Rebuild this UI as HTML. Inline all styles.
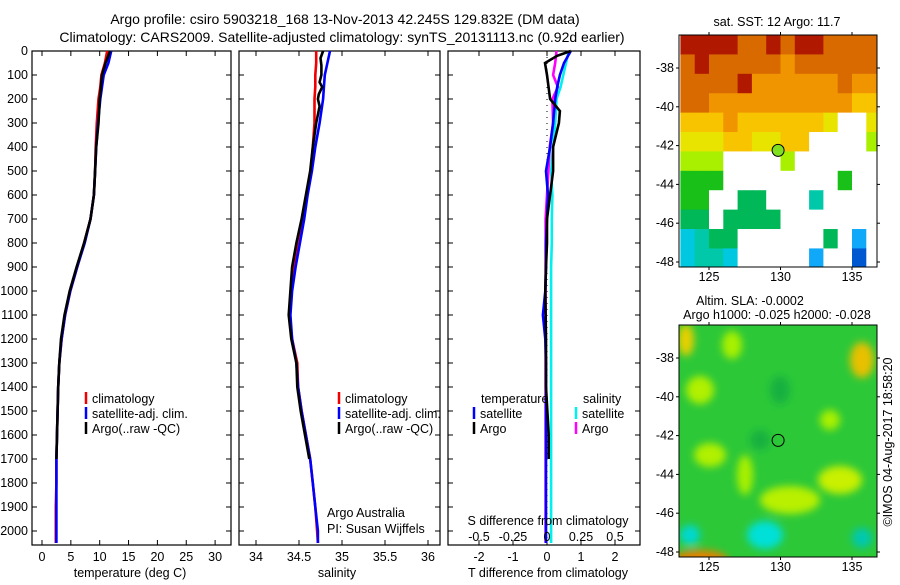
<!DOCTYPE html>
<html><head><meta charset="utf-8"><style>
body{margin:0;background:#fff;width:900px;height:580px;overflow:hidden}
svg text{font-family:"Liberation Sans",sans-serif;font-size:12.5px;fill:#000}
</style></head><body>
<svg id="fig" width="900" height="580" xmlns="http://www.w3.org/2000/svg">
<text x="345" y="24" text-anchor="middle" style="font-size:14px">Argo profile: csiro 5903218_168 13-Nov-2013 42.245S 129.832E (DM data)</text>
<text x="342" y="42" text-anchor="middle" style="font-size:14px">Climatology: CARS2009. Satellite-adjusted climatology: synTS_20131113.nc (0.92d earlier)</text>
<g id="g"></g>
</svg>
<script>
// ---- data ----
const depths = [0,50,100,150,200,300,400,500,600,700,800,900,1000,1100,1200,1300,1400,1500,1600,1700,1800,1900,2000,2050];
const tempClim = [11.3,10.9,10.3,10.1,9.8,9.5,9.3,9.2,9.0,8.4,7.3,6.1,4.9,4.0,3.4,3.0,2.8,2.7,2.6,2.5,2.5,2.4,2.4,2.4];
const tempSat  = [12.0,11.5,10.7,10.4,10.1,9.7,9.4,9.2,9.0,8.4,7.4,6.1,4.9,4.0,3.4,3.0,2.8,2.7,2.6,2.5,2.5,2.5,2.5,2.5];
const tempArgo = [11.8,11.0,10.4,10.2,10.0,9.8,9.4,9.2,9.0,8.4,7.3,6.0,4.8,3.9,3.3,3.0,2.8,2.7,2.6,2.5];
const salClim = [34.70,34.70,34.69,34.69,34.68,34.68,34.66,34.64,34.59,34.54,34.48,34.44,34.41,34.39,34.42,34.48,34.49,34.53,34.58,34.63,34.66,34.69,34.71,34.72];
const salSat  = [34.86,34.83,34.80,34.79,34.78,34.74,34.69,34.65,34.60,34.56,34.51,34.46,34.42,34.40,34.42,34.47,34.49,34.53,34.58,34.63,34.66,34.69,34.72,34.72];
const salArgoDepths = [0,30,60,100,130,150,180,200,230,300,400,500,600,700,800,900,1000,1100,1200,1300,1400,1500,1600,1700];
const salArgo = [34.78,34.75,34.76,34.76,34.74,34.77,34.73,34.72,34.74,34.70,34.66,34.63,34.58,34.53,34.47,34.42,34.40,34.38,34.41,34.47,34.48,34.52,34.57,34.62];
const tDiffArgoDepths = [0,20,50,100,200,250,300,400,500,600,700,800,900,1000,1200,1400,1600,1700];
const tDiffArgo = [0.7,0.3,-0.06,0.0,0.09,0.38,0.35,0.18,0.18,0.09,0.0,0.0,-0.03,-0.05,-0.03,-0.03,0.05,0.05];
const tDiffSat = [0.7,0.5,0.38,0.3,0.24,0.18,0.09,-0.03,0.03,0.0,-0.03,-0.03,-0.05,-0.12,-0.05,-0.03,-0.03,-0.03,-0.03,-0.03,-0.03,-0.03,-0.03,-0.03];
const sDiffArgo = [0.07,0.06,0.045,0.08,0.04,0.045,0.02,0.01,0.0,-0.01,-0.01,-0.01,-0.01,-0.01,-0.01,-0.01,-0.01,-0.01,-0.01,-0.01,-0.01,-0.01,-0.01,-0.01];
const sDiffSat = [0.16,0.14,0.12,0.10,0.07,0.06,0.045,0.03,0.04,0.035,0.035,0.03,0.03,0.03,0.03,0.03,0.03,0.03,0.03,0.03,0.03,0.03,0.03,0.03];
const depthTicks = [0,100,200,300,400,500,600,700,800,900,1000,1100,1200,1300,1400,1500,1600,1700,1800,1900,2000];
const tempTicks = [0,5,10,15,20,25,30];
const salTicks = [34,34.5,35,35.5,36];
const tdTicks = [-2,-1,0,1,2];
const sdTicks = [-0.5,-0.25,0,0.25,0.5];
const lonTicks = [125,130,135];
const latTicks = [-38,-40,-42,-44,-46,-48];
const argoLon = 129.832, argoLat = -42.245;
const sstRows = [
"RRRROORORROOOO",
"OROOOOOoOOOOOO",
"OOOORooooooOoo",
"OOooooooooooYY",
"YYYoYYYYYYyWWy",
"yyyYYyyYYWWWWL",
"LLLWWWWLWWWWWW",
"GGGWWWWWWWWGWW",
"GGWWggWWWtWWWW",
"ggWggggWWWWWWW",
"ctggWWWWWWgWbW",
"cttcWWWWWbWWBW"];
const sstColors = {R:"#b01800",O:"#d86a00",o:"#f09400",Y:"#f8c400",y:"#e8e400",L:"#a8f000",G:"#18c018",g:"#00b858",t:"#00c8a8",c:"#00c8e0",b:"#10a8f8",B:"#0058d0",W:"#ffffff"};

const NS="http://www.w3.org/2000/svg";
const G=document.getElementById('g');
function mk(tag,attrs,parent){const e=document.createElementNS(NS,tag);for(const k in attrs)e.setAttribute(k,attrs[k]);(parent||G).appendChild(e);return e;}
function txt(s,x,y,anchor,extra){const t=mk('text',Object.assign({x:x,y:y,'text-anchor':anchor||'start'},extra||{}));t.textContent=s;return t;}

const yTop=51, yBot=545;
const yD = d => yTop + d*0.24;
const xT = v => 42 + v*5.77;
const xS = v => 256 + (v-34)*86;
const xTD = v => 547 + v*34;
const xSD = v => 547 + v*136;

function panel(name,x0,x1){
  const r=mk('rect',{x:x0,y:yTop,width:x1-x0,height:yBot-yTop,fill:'none',stroke:'#000','stroke-width':1.2});
  
  
  depthTicks.forEach(d=>{
    mk('line',{x1:x0,x2:x0+5,y1:yD(d),y2:yD(d),stroke:'#000'});
    mk('line',{x1:x1-5,x2:x1,y1:yD(d),y2:yD(d),stroke:'#000'});
  });
}
function xticks(ticks,fx,labels){
  ticks.forEach(v=>{
    const x=fx(v);
    mk('line',{x1:x,x2:x,y1:yTop,y2:yTop+5,stroke:'#000'});
    mk('line',{x1:x,x2:x,y1:yBot-5,y2:yBot,stroke:'#000'});
    if(labels){const t=txt(String(v),x,561,'middle');
      
      }
  });
}
function line(ds,vs,fx,color,name,w){
  const n=Math.min(ds.length,vs.length);let p=[];
  for(let i=0;i<n;i++)p.push(fx(vs[i]).toFixed(1)+','+yD(ds[i]).toFixed(1));
  const e=mk('polyline',{points:p.join(' '),fill:'none',stroke:color,'stroke-width':w||2.6,'stroke-linejoin':'miter'});
  
  
}
function legend(x,y,color,label){
  mk('line',{x1:x,x2:x,y1:y-11,y2:y+1,stroke:color,'stroke-width':2.5});
  const t=txt(label,x+6,y);
  
  
}

panel('temperature-panel',32,231);
depthTicks.forEach(d=>{const t=txt(String(d),28,yD(d)+4,'end');
  
  });
xticks(tempTicks,xT,true);
line(depths,tempClim,xT,'#f00000','temp-climatology-line');
line(depths,tempSat,xT,'#0000ff','temp-satellite-line');
line(depths,tempArgo,xT,'#000000','temp-argo-line');
legend(86,403,'#f00000','climatology');legend(86,418,'#0000ff','satellite-adj. clim.');legend(86,433,'#000','Argo(..raw -QC)');
let t=txt('temperature (deg C)',130,577,'middle');

panel('salinity-panel',239,440);
xticks(salTicks,xS,true);
line(depths,salClim,xS,'#f00000','sal-climatology-line');
line(depths,salSat,xS,'#0000ff','sal-satellite-line');
line(salArgoDepths,salArgo,xS,'#000000','sal-argo-line');
legend(339,403,'#f00000','climatology');legend(339,418,'#0000ff','satellite-adj. clim.');legend(339,433,'#000','Argo(..raw -QC)');
t=txt('Argo Australia',327,517);
t=txt('PI: Susan Wijffels',327,533);
t=txt('salinity',337,577,'middle');

panel('difference-panel',448,640);
xticks(tdTicks,xTD,true);
mk('line',{x1:547,x2:547,y1:yTop,y2:yBot,stroke:'#000','stroke-width':1,'stroke-dasharray':'1,5'});
line(depths,sDiffSat,xSD,'#00f0f0','sdiff-satellite-line');
line(depths,sDiffArgo,xSD,'#ff00ff','sdiff-argo-line');
line(depths,tDiffSat,xTD,'#0000ff','tdiff-satellite-line');
line(tDiffArgoDepths,tDiffArgo,xTD,'#000000','tdiff-argo-line');
txt('temperature',481,403);txt('salinity',583,403);
legend(474,418,'#0000ff','satellite');legend(474,433,'#000','Argo');
legend(576,418,'#00f0f0','satellite');legend(576,433,'#ff00ff','Argo');
t=txt('S difference from climatology',548,525,'middle');
sdTicks.forEach(v=>{const e=txt(String(v),xSD(v),541,'middle');
  
  });
t=txt('T difference from climatology',548,577,'middle');

const mx0=679,mx1=877;
const lonX = l => 709 + (l-125)*14.3;
function mapFrame(name,top,bot,latRef){
  const latY = l => latRef + (-38-l)*19.4;
  const r=mk('rect',{x:mx0,y:top,width:mx1-mx0,height:bot-top,fill:'none',stroke:'#000','stroke-width':1});
  
  
  lonTicks.forEach(l=>{const x=lonX(l);
    mk('line',{x1:x,x2:x,y1:top-3,y2:top,stroke:'#000'});mk('line',{x1:x,x2:x,y1:bot,y2:bot+3,stroke:'#000'});
    const e=txt(String(l),x,bot+14,'middle');
    
    });
  latTicks.forEach(l=>{const y=latY(l);
    mk('line',{x1:mx0-3,x2:mx0,y1:y,y2:y,stroke:'#000'});mk('line',{x1:mx1,x2:mx1+3,y1:y,y2:y,stroke:'#000'});
    const e=txt(String(l),674,y+4,'end');
    
    });
  return latY;
}
const sstTop=35,sstBot=267;
const sstLatY = l => 68 + (-38-l)*19.4;
const sg=mk('g',{'clip-path':'url(#c1)'});
const cp=mk('clipPath',{id:'c1'});mk('rect',{x:mx0,y:sstTop,width:mx1-mx0,height:sstBot-sstTop},cp);
sstRows.forEach((row,ri)=>{[...row].forEach((c,ci)=>{
  const x=lonX(123+ci), y=sstLatY(-36.3-ri);
  const e=mk('rect',{x:x,y:y,width:14.8,height:19.9,fill:sstColors[c]},sg);
  
  
});});
mapFrame('sst-map',sstTop,sstBot,68);
let c=mk('circle',{cx:lonX(argoLon),cy:sstLatY(argoLat),r:6,fill:'#80e020',stroke:'#000'});

t=txt('sat. SST: 12 Argo: 11.7',777,26,'middle');

const slaTop=325,slaBot=557;
const slaLatY = l => 358 + (-38-l)*19.4;
const cp2=mk('clipPath',{id:'c2'});mk('rect',{x:mx0,y:slaTop,width:mx1-mx0,height:slaBot-slaTop},cp2);
const fl=mk('filter',{id:'bl'});mk('feGaussianBlur',{stdDeviation:4},fl);
const lg=mk('g',{'clip-path':'url(#c2)'});
let bg=mk('rect',{x:mx0,y:slaTop,width:mx1-mx0,height:slaBot-slaTop,fill:'#2cc838'},lg);

const blobs=mk('g',{filter:'url(#bl)'},lg);
[[686,340,8,16,'#e8d000'],[732,345,10,14,'#a8f000'],[700,390,14,14,'#b0f000'],[862,360,12,18,'#e8c000'],
 [710,455,16,12,'#b0f000'],[790,500,30,14,'#b8f000'],[840,480,22,14,'#c8f000'],[745,475,8,20,'#a8f000'],
 [690,535,10,10,'#00d8d0'],[765,535,18,14,'#00e0d8'],[862,538,10,10,'#00c8b0'],[700,560,28,10,'#e88000'],
 [830,420,10,10,'#a8f000'],[780,390,10,14,'#18b040'],[760,440,10,10,'#18b040']].forEach(b=>{
  mk('ellipse',{cx:b[0],cy:b[1],rx:b[2],ry:b[3],fill:b[4]},blobs);});
mapFrame('sla-map',slaTop,slaBot,358);
c=mk('circle',{cx:lonX(argoLon),cy:slaLatY(argoLat),r:6,fill:'none',stroke:'#000'});

t=txt('Altim. SLA: -0.0002',750,305,'middle');
t=txt('Argo h1000: -0.025 h2000: -0.028',777,319,'middle');
t=txt('©IMOS 04-Aug-2017 18:58:20',892,442,'middle',{transform:'rotate(-90 892 442)'});
</script>
</body></html>
